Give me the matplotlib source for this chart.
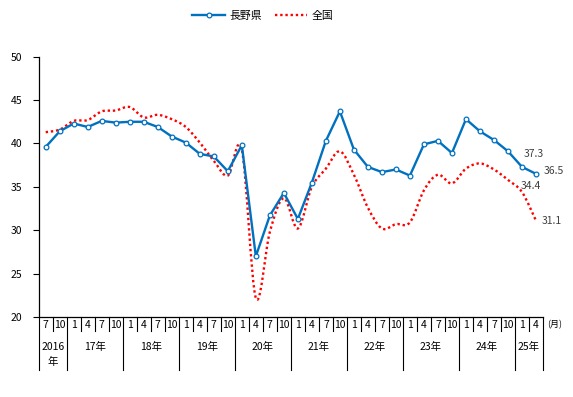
import matplotlib
matplotlib.use('Agg')
import matplotlib.pyplot as plt
from matplotlib.path import Path
from matplotlib.patches import PathPatch
from matplotlib.lines import Line2D
from matplotlib.transforms import blended_transform_factory
import numpy as np

plt.rcParams['font.family'] = ['Noto Sans CJK JP', 'DejaVu Sans']

months = ["7", "10"] + ["1", "4", "7", "10"] * 8 + ["1", "4"]
year_labels = ["2016", "17年", "18年", "19年", "20年", "21年", "22年", "23年", "24年", "25年"]
year_spans = [(0, 2), (2, 6), (6, 10), (10, 14), (14, 18), (18, 22), (22, 26), (26, 30), (30, 34), (34, 36)]

nagano = [39.6, 41.4, 42.3, 41.9, 42.6, 42.4, 42.5, 42.5, 41.9, 40.8, 40.1, 38.8,
          38.5, 36.8, 39.8, 27.0, 31.7, 34.3, 31.3, 35.5, 40.3, 43.7, 39.3, 37.3,
          36.7, 37.0, 36.3, 39.9, 40.3, 38.9, 42.8, 41.4, 40.4, 39.1, 37.3, 36.5]
zenkoku = [41.3, 41.6, 42.6, 42.7, 43.7, 43.8, 44.2, 43.0, 43.3, 42.8, 41.9, 40.1,
           38.0, 36.3, 39.3, 22.2, 29.8, 33.7, 30.2, 35.0, 37.1, 39.1, 36.4, 32.6,
           30.2, 30.7, 30.9, 34.6, 36.4, 35.4, 37.1, 37.7, 37.0, 35.8, 34.4, 31.1]

BLUE = '#0070C0'
RED = '#FF0000'
FS = 7.5
W, H = 573, 397

fig = plt.figure(figsize=(W / 100, H / 100), dpi=100)
x0p, x1p, y0p, y1p = 38.7, 543.0, 317.0, 56.7
ax = fig.add_axes([x0p / W, 1 - y0p / H, (x1p - x0p) / W, (y0p - y1p) / H])

x = np.arange(len(months))
ax.set_xlim(-0.5, len(months) - 0.5)
ax.set_ylim(20, 50)
ax.set_yticks(np.arange(20, 51, 5))
ax.tick_params(axis='y', direction='out', length=4, width=0.8, pad=8, labelsize=FS)
ax.set_xticks([])
for s in ['top', 'right']:
    ax.spines[s].set_visible(False)
ax.spines['left'].set_linewidth(0.9)
ax.spines['bottom'].set_linewidth(0.9)

# smoothed red line (Catmull-Rom -> cubic Bezier)
def smooth_path(xs, ys):
    n = len(xs)
    verts = [(xs[0], ys[0])]
    codes = [Path.MOVETO]
    for i in range(n - 1):
        pm = (xs[max(i - 1, 0)], ys[max(i - 1, 0)])
        p0 = (xs[i], ys[i])
        p1 = (xs[i + 1], ys[i + 1])
        p2 = (xs[min(i + 2, n - 1)], ys[min(i + 2, n - 1)])
        c1 = (p0[0] + (p1[0] - pm[0]) / 6, p0[1] + (p1[1] - pm[1]) / 6)
        c2 = (p1[0] - (p2[0] - p0[0]) / 6, p1[1] - (p2[1] - p0[1]) / 6)
        verts += [c1, c2, p1]
        codes += [Path.CURVE4] * 3
    return Path(verts, codes)

red_patch = PathPatch(smooth_path(list(x), zenkoku), fill=False, edgecolor=RED,
                      lw=1.7, linestyle=(0, (1, 1.2)), zorder=2)
ax.add_patch(red_patch)

ax.plot(x, nagano, color=BLUE, lw=1.7, marker='o', ms=3.4, mfc='white',
        mec=BLUE, mew=0.9, zorder=3)

# end labels
tc = '#404040'
ax.annotate(f"{nagano[-2]:.1f}", (x[-2], nagano[-2]), xytext=(2, 13), textcoords='offset pixels',
            ha='left', va='center', fontsize=FS, color=tc)
ax.annotate(f"{nagano[-1]:.1f}", (x[-1], nagano[-1]), xytext=(8, 3), textcoords='offset pixels',
            ha='left', va='center', fontsize=FS, color=tc)
ax.annotate(f"{zenkoku[-2]:.1f}", (x[-2], zenkoku[-2]), xytext=(-1, 6), textcoords='offset pixels',
            ha='left', va='center', fontsize=FS, color=tc)
ax.annotate(f"{zenkoku[-1]:.1f}", (x[-1], zenkoku[-1]), xytext=(6, 0), textcoords='offset pixels',
            ha='left', va='center', fontsize=FS, color=tc)

# table under axis
tr = blended_transform_factory(ax.transData, fig.transFigure)
def fy(p):
    return 1 - p / H

year_bounds = set([s for s, e in year_spans] + [year_spans[-1][1]])
for b in range(len(months) + 1):
    xb = b - 0.5
    if b in year_bounds:
        ax.plot([xb, xb], [fy(317), fy(370)], color='black', lw=0.8, transform=tr, clip_on=False)
    else:
        ax.plot([xb, xb], [fy(317), fy(331)], color='black', lw=0.8, transform=tr, clip_on=False)

for i, m in enumerate(months):
    ax.text(i, fy(325), m, transform=tr, ha='center', va='center', fontsize=FS)

for lab, (s, e) in zip(year_labels, year_spans):
    cx = (s + e - 1) / 2
    ax.text(cx, fy(347), lab, transform=tr, ha='center', va='center', fontsize=FS)
ax.text(0.5, fy(362), "年", transform=tr, ha='center', va='center', fontsize=FS)
ax.text(len(months) - 0.5 + 0.3, fy(325), "(月)", transform=tr, ha='left', va='center', fontsize=FS - 1)

# legend
handles = [Line2D([], [], color=BLUE, lw=1.7, marker='o', ms=3.4, mfc='white', mec=BLUE,
                  mew=0.9, markevery=[1]),
           Line2D([], [], color=RED, lw=1.7, linestyle=(0, (1, 1.2)))]
fig.legend(handles, ['長野県', '全国'], loc='center', bbox_to_anchor=(263 / W, 1 - 16 / H),
           ncol=2, frameon=False, fontsize=FS + 0.3, handlelength=3.0, handletextpad=0.4,
           columnspacing=1.2)

fig.savefig('out.png', dpi=100)
